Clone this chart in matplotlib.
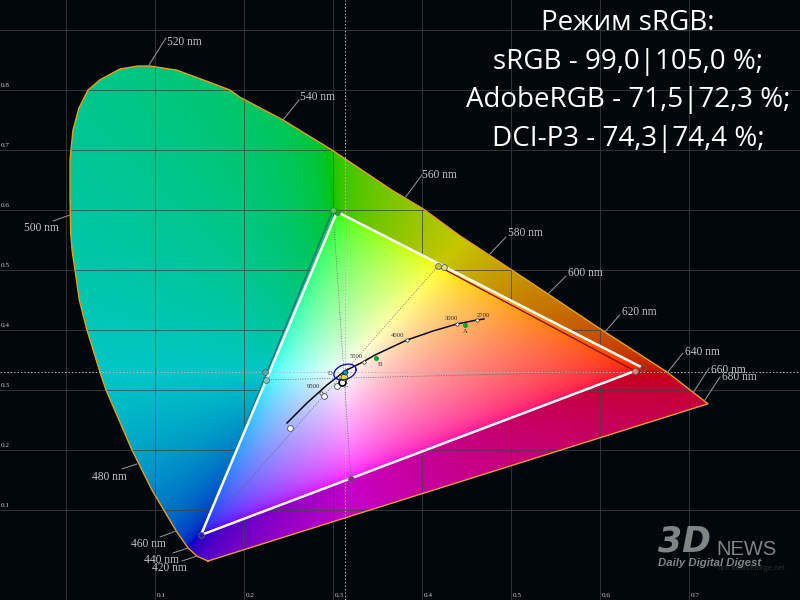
import numpy as np
import matplotlib
matplotlib.use("Agg")
import matplotlib.pyplot as plt
from matplotlib.patches import Polygon

# spectral locus (blue end -> green -> red end)
locus_x = [.159, .1466, .1365, .1242, .0961, .0736, .0444, .0376, .023, .0144, .0096, .0065, .0047, .004, .004, .005,
           .0073, .014, .0242, .0376, .0601, .0803, .0938, .1242, .1534, .1837, .1949, .2433, .2983, .3657, .4006,
           .4421, .5208, .6017, .6747, .7208]
locus_y = [.015, .023, .037, .063, .133, .2, .3, .33, .4, .45, .5, .53, .562, .617, .683, .7,
           .733, .77, .8, .817, .835, .84, .84, .833, .817, .8, .788, .75, .7, .633, .602,
           .557, .48, .4, .33, .277]

# wavelength marks
wl_names = ["420 nm", "440 nm", "460 nm", "480 nm", "500 nm", "520 nm", "540 nm", "560 nm", "580 nm", "600 nm",
            "620 nm", "640 nm", "660 nm", "680 nm"]
wl_x = [.1466, .1365, .1231, .0792, .004, .0927, .2433, .3803, .4747, .541, .605, .6747, .704, .7174]
wl_y = [.0233, .0367, .065, .1767, .5917, .8417, .75, .62, .525, .46, .397, .3283, .295, .2833]
wl_tick = [(-15, -5), (-15, -5), (-16, -6), (-15, -5), (-17, -6), (17, 27), (16, 20), (17, 23), (17, 18), (18, 18),
           (15, 17), (16, 20), (16, 25), (15, 23)]
wl_label = [(-45, -12), (-44, -12), (-45, -13), (-45, -13), (-46, -13), (18, 23), (17, 23), (17, 23), (19, 22),
            (20, 21), (17, 20), (18, 21), (18, 23), (17, 23)]

# measured gamut (white triangle) and the reference one
red_m = (.6478, .3367)
green_m = (.304, .597)
blue_m = (.1511, .0583)
red_r = (.6388, .3317)
green_r = (.2994, .6)
yellow_r = (.4174, .5067)
yellow_m = (.4242, .505)
cyan_r = (.223, .33)
cyan_m = (.2242, .3167)
magenta_m = (.3197, .1517)
gamut_points = [red_m, red_r, green_m, green_r, blue_m, yellow_r, yellow_m, cyan_r, cyan_m, magenta_m]
gamut_colors = ["#d01010", "#f08080", "#10b020", "#40d050", "#2020b0", "#c8c840", "#e0e080", "#50b0b0", "#70d0c8",
                "#b01090"]

# black body curve
planck_x = [.2478, .2702, .2927, .3129, .3331, .3466, .3826, .4118, .4388, .4612, .4691]
planck_y = [.245, .2783, .3083, .3317, .3467, .3583, .3833, .3983, .41, .4167, .4183]
temp_names = ["2700", "3000", "4000", "5500", "9500"]
temp_x = [.4612, .4388, .3826, .3343, .286]
temp_y = [.4167, .41, .3833, .3467, .295]
temp_offs = [(6, 4), (-6, 6), (-9, 5), (-8, 5), (-8, 6)]

# greyscale measurements
grey_x = [.2511, .2893, .3039]
grey_y = [.2367, .29, .3067]

bg = "#01070b"


def chroma_image(xs, ys):
    # xy -> linear sRGB, out of gamut colours desaturated, scaled to the largest channel
    xx, yy = np.meshgrid(xs, ys)
    yy = np.maximum(yy, 0.001)
    X = xx / yy
    Z = (1 - xx - yy) / yy
    r = 3.2406 * X - 1.5372 - 0.4986 * Z
    g = -0.9689 * X + 1.8758 + 0.0415 * Z
    b = 0.0557 * X - 0.2040 + 1.0570 * Z
    rgb = np.dstack([r, g, b])
    rgb = rgb - np.minimum(rgb.min(axis=2, keepdims=True), 0)
    rgb = rgb / np.maximum(rgb.max(axis=2, keepdims=True), 1e-6)
    return rgb ** (1 / 2.2)


fig = plt.figure(figsize=(8, 6), dpi=100, facecolor=bg)
ax = fig.add_axes([0, 0, 1, 1])
ax.set_facecolor(bg)
ax.set_xlim(-0.0747, 0.8242)
ax.set_ylim(-0.05, 0.95)
ax.axis("off")

xs = np.linspace(-0.0747, 0.8242, 800)
ys = np.linspace(-0.05, 0.95, 600)
img = chroma_image(xs, ys)
extent = [xs[0], xs[-1], ys[0], ys[-1]]

# darker colours outside the gamut
outer = ax.imshow(img * 0.78, extent=extent, origin="lower", aspect="auto", zorder=1, interpolation="bilinear")
outer.set_clip_path(Polygon(np.column_stack([locus_x, locus_y]), closed=True, transform=ax.transData))

for v in np.arange(0, 0.8, 0.1):
    ax.axvline(v, color="#3c4444", alpha=0.75, lw=0.7, zorder=2)
for v in np.arange(0.1, 1.0, 0.1):
    ax.axhline(v, color="#3c4444", alpha=0.75, lw=0.7, zorder=2)

inner = ax.imshow(img, extent=extent, origin="lower", aspect="auto", zorder=3, interpolation="bilinear")
inner.set_clip_path(Polygon([green_m, red_m, red_r, blue_m], closed=True, transform=ax.transData))
ax.set_xlim(-0.0747, 0.8242)
ax.set_ylim(-0.05, 0.95)

ax.plot(locus_x + locus_x[:1], locus_y + locus_y[:1], color="#e8a010", lw=1.0, zorder=4)

# crosshair and the dotted lines through the white point
ax.axvline(.3129, color="#b8b8b8", lw=0.7, ls=(0, (1.5, 2)), zorder=4)
ax.axhline(.33, color="#b8b8b8", lw=0.7, ls=(0, (1.5, 2)), zorder=4)
for p, q in [(green_r, magenta_m), (cyan_m, red_r), (blue_m, yellow_r)]:
    ax.plot([p[0], q[0]], [p[1], q[1]], color="#606060", lw=0.5, ls=(0, (1.5, 2)), zorder=4)

# reference triangle, mostly hidden under the white one
ax.plot([yellow_r[0], red_r[0]], [yellow_r[1], red_r[1]], color="#8a1000", lw=1.0, zorder=5)
ax.plot([blue_m[0], green_r[0]], [blue_m[1], green_r[1]], color="#0a8080", lw=1.2, zorder=5)
ax.plot([blue_m[0], green_m[0], red_m[0]], [blue_m[1], green_m[1], red_m[1]], color="white", lw=1.8, zorder=6,
        solid_joinstyle="miter")
ax.plot([blue_m[0], red_r[0]], [blue_m[1], red_r[1]], color="white", lw=1.8, zorder=6)

for p, c in zip(gamut_points, gamut_colors):
    ax.plot(p[0], p[1], "o", ms=4.2, mfc=c, mec="#606060", mew=0.6, zorder=7)

# black body curve and its marks
ax.plot(planck_x, planck_y, color="#0a0a0a", lw=1.1, zorder=7)
ax.plot(temp_x, temp_y, "o", ms=2.4, mfc="white", mec="#303030", mew=0.5, zorder=8)
for name, tx, ty, off in zip(temp_names, temp_x, temp_y, temp_offs):
    ax.annotate(name, (tx, ty), xytext=off, textcoords="offset pixels", ha="center", va="center", fontsize=4.8,
                family="Liberation Serif", color="#303030", zorder=8)

# illuminants
ax.plot([.4478, .3478], [.4083, .3533], "o", ms=2.6, color="#10a030", zorder=8)
for name, lx, ly in [("A", .4478, .3967), ("B", .3523, .3417), ("C", .3141, .3067), ("D", .2961, .3267)]:
    ax.text(lx, ly, name, fontsize=4.8, family="Liberation Serif", color="#303030", ha="center", va="center", zorder=8)

# greyscale points, white point, ellipse
ax.plot(grey_x, grey_y, "o", ms=4.2, mfc="white", mec="#606060", mew=0.7, zorder=8)
ax.plot(.3096, .3133, "o", ms=5, mfc="white", mec="black", mew=1.2, zorder=9)
ax.plot(.3118, .3217, "o", ms=5, mfc="#f0e000", mec="black", mew=0.4, zorder=9)
t = np.linspace(0, 2 * np.pi, 80)
ax.plot(.3129 + .0125 * np.cos(t), .33 + .0125 * np.sin(t) + .004 * np.cos(t), color="#1010e0", lw=1.0, zorder=9)
ax.plot(.3129, .33, "o", ms=3.4, mfc="#10b040", mec="#1010e0", mew=0.6, zorder=10)

# wavelength labels
for name, wx, wy, tick, lab in zip(wl_names, wl_x, wl_y, wl_tick, wl_label):
    ax.annotate("", (wx, wy), xytext=tick, textcoords="offset pixels",
                arrowprops=dict(arrowstyle="-", color="#8a8a8a", lw=0.8, shrinkA=0, shrinkB=0), zorder=5)
    ax.annotate(name, (wx, wy), xytext=lab, textcoords="offset pixels", ha="left", va="center", fontsize=8.3,
                family="Liberation Serif", color="#c0c4c4", zorder=11)

# axis numbers
for v in np.arange(0.1, 0.8, 0.1):
    ax.text(v + .0062, -.043, f"{v:.1f}", fontsize=5.2, family="Liberation Serif", color="#c8c8c8", ha="center",
            va="center")
for v in np.arange(0.1, 0.9, 0.1):
    ax.text(-.0736, v + .0083, f"{v:.1f}", fontsize=5.2, family="Liberation Serif", color="#c8c8c8", ha="left",
            va="center")

# header
header = ["Режим sRGB:", "sRGB - 99,0|105,0 %;", "AdobeRGB - 71,5|72,3 %;", "DCI-P3 - 74,3|74,4 %;"]
for line, hy in zip(header, [.9, .835, .7717, .7067]):
    ax.text(.6308, hy, line, fontsize=20, family="Open Sans", color="white", ha="center", va="baseline", zorder=12)

# watermark
ax.text(.6646, .03, "3D", fontsize=25, family="DejaVu Sans", weight="bold", style="italic", color="#7f8585",
        va="baseline", zorder=12)
ax.text(.7298, .025, "NEWS", fontsize=14.5, family="Liberation Sans", color="#7f8585", va="baseline", zorder=12)
ax.text(.6646, .0067, "Daily Digital Digest", fontsize=8.2, family="Liberation Sans", weight="bold", style="italic",
        color="#7f8585", va="baseline", zorder=12)
ax.text(.732, .0, "hcfr.sourceforge.net", fontsize=5.5, family="Liberation Sans", color="#2a2e2e", va="baseline",
        zorder=11)

fig.savefig("out.png", dpi=100, facecolor=bg)
